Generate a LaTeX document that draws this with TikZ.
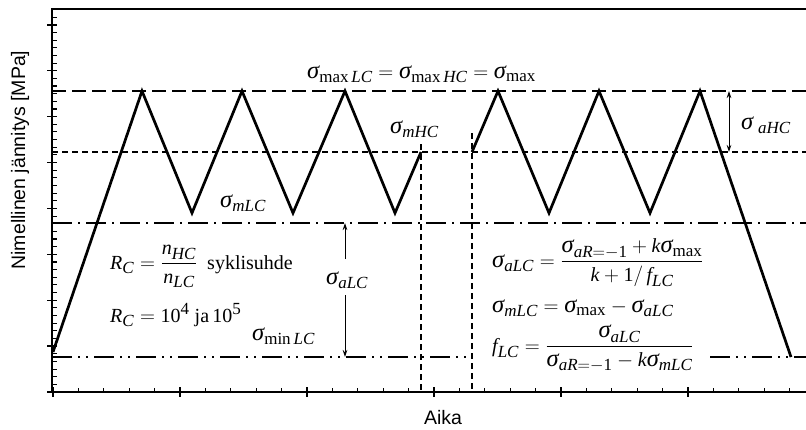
\documentclass[tikz,border=0pt]{standalone}
\usepackage{amsmath}
\usepackage{fontspec}
\setmainfont{Liberation Serif}
\newfontfamily\arialfont{Liberation Sans}
\DeclareMathSizes{20}{20}{17}{13}
\usetikzlibrary{arrows.meta}
\newcommand\sg{\mbox{\normalfont\itshape\fontsize{24.5}{28}\selectfont σ}}
\newcommand\ti[1]{\text{\normalfont\itshape #1}}
\newcommand\tr[1]{\text{\normalfont #1}}
\tikzset{
  wave/.style={line width=2.7pt, line join=miter},
  axisline/.style={line width=1.6pt},
  majtick/.style={line width=1.4pt},
  mintick/.style={line width=1.1pt},
  maxline/.style={line width=1.5pt, dash pattern=on 14pt off 6pt},
  hcline/.style={line width=1.4pt, dash pattern=on 6pt off 4pt},
  lcline/.style={line width=1.4pt, dash pattern=on 20pt off 6pt on 2pt off 6pt},
  minline/.style={line width=1.4pt, dash pattern=on 20pt off 6pt on 2pt off 6pt on 2pt off 6pt},
  vline/.style={line width=1.4pt, dash pattern=on 6pt off 4pt},
  dimarrow/.style={line width=0.8pt, -{Stealth[length=7pt,width=4.5pt]}},
  lbl/.style={inner sep=0pt, font=\fontsize{20}{24}\selectfont},
  axlbl/.style={inner sep=0pt, font=\arialfont\fontsize{19.5}{23}\selectfont},
}
\begin{document}
\begin{tikzpicture}[x=1pt,y=-1pt]
\useasboundingbox (0,0) rectangle (806,429);

% ---- horizontal reference lines
\coordinate (maxL) at (52,91);   \coordinate (maxR) at (806,91);
\coordinate (hcL)  at (52,152);  \coordinate (hcR)  at (806,152);
\coordinate (lcL)  at (52,223);  \coordinate (lcR)  at (806,223);
\coordinate (minL) at (52,357);  \coordinate (minM) at (472,357);
\coordinate (minN) at (710,357); \coordinate (minR) at (806,357);
\draw[maxline] (maxL) -- (maxR);
\draw[hcline]  (hcL) -- (hcR);
\draw[lcline]  (lcL) -- (lcR);
\draw[minline] (minL) -- (minM);
\draw[minline] (minN) -- (minR);

% ---- vertical dotted lines
\coordinate (v1t) at (421,144); \coordinate (v1b) at (421,392);
\coordinate (v2t) at (472,133); \coordinate (v2b) at (472,392);
\draw[vline] (v1t) -- (v1b);
\draw[vline] (v2t) -- (v2b);

% ---- axes
\coordinate (O) at (52,392);
\coordinate (Ytop) at (52,9);
\coordinate (Xend) at (806,392);
\coordinate (Tend) at (806,9);
\foreach \i in {1,...,50} \draw[mintick] (52,{392-7.65*\i}) -- ++(4.5,0);
\foreach \i in {0,...,8} \draw[majtick] (47,{392-45.9*\i}) -- ++(10,0);
\foreach \i in {1,...,29} \draw[mintick] ({53+25.4*\i},392) -- ++(0,-4.5);
\foreach \i in {0,...,5} \draw[majtick] ({53+127*\i},387) -- ++(0,10);
\draw[axisline] (Tend) -- (Ytop) -- (O) -- (Xend);

% ---- waveform
\coordinate (p0) at (53,352);
\coordinate (p1) at (142,91);
\coordinate (p2) at (192,213);
\coordinate (p3) at (242,91);
\coordinate (p4) at (293,213);
\coordinate (p5) at (345,91);
\coordinate (p6) at (395,213);
\coordinate (p7) at (421,152);
\coordinate (p8) at (472,152);
\coordinate (p9) at (498,91);
\coordinate (p10) at (549,213);
\coordinate (p11) at (599,91);
\coordinate (p12) at (650,213);
\coordinate (p13) at (700,91);
\coordinate (p14) at (791,357);
\draw[wave] (p0) -- (p1) -- (p2) -- (p3) -- (p4) -- (p5) -- (p6) -- (p7);
\draw[wave] (p8) -- (p9) -- (p10) -- (p11) -- (p12) -- (p13) -- (p14);

% ---- dimension arrows
\coordinate (aHCt) at (729,91);  \coordinate (aHCb) at (729,152);
\coordinate (aHCm) at (729,121);
\draw[dimarrow] (aHCm) -- (aHCt);
\draw[dimarrow] (aHCm) -- (aHCb);
\node[lbl, anchor=base west] (aHC) at (741,129) {$\sg_{\;\ti{aHC}}$};

\coordinate (aLCt) at (345,223); \coordinate (aLCb) at (345,357);
\coordinate (aLCs1) at (345,259); \coordinate (aLCs2) at (345,295);
\draw[dimarrow] (aLCs1) -- (aLCt);
\draw[dimarrow] (aLCs2) -- (aLCb);
\node[lbl, anchor=base west] (aLC) at (326,284) {$\sg_{\ti{aLC}}$};

% ---- labels
\node[lbl, anchor=base west] (top) at (307,78)
  {$\sg_{\tr{max}\,\ti{LC}} = \sg_{\tr{max}\,\ti{HC}} = \sg_{\tr{max}}$};
\node[lbl, anchor=base west] (mHC) at (390,133) {$\sg_{\ti{mHC}}$};
\node[lbl, anchor=base west] (mLC) at (220,207) {$\sg_{\ti{mLC}}$};
\node[lbl, anchor=base west] (minLC) at (252,340) {$\sg_{\tr{min}\,\ti{LC}}$};

\node[lbl, anchor=base west] (RC1) at (110,269)
  {$\ti{R}_{\ti{C}} = \dfrac{\ti{n}_{\ti{HC}}}{\ti{n}_{\ti{LC}}}$\ \ syklisuhde};
\node[lbl, anchor=base west] (RC2) at (110,322)
  {$\ti{R}_{\ti{C}} = \tr{10}^{\tr{4}}$ ja\,$\tr{10}^{\tr{5}}$};

\node[lbl, anchor=base west] (eq1) at (492,267)
  {$\sg_{\ti{aLC}} = \dfrac{\sg_{\ti{aR}=-\tr{1}} + \ti{k}\sg_{\tr{max}}}{\ti{k}+\tr{1}/\,\ti{f}_{\ti{LC}}}$};
\node[lbl, anchor=base west] (eq2) at (492,312)
  {$\sg_{\ti{mLC}} = \sg_{\tr{max}} - \sg_{\ti{aLC}}$};
\node[lbl, anchor=base west] (eq3) at (492,352)
  {$\ti{f}_{\ti{LC}} = \dfrac{\sg_{\ti{aLC}}}{\sg_{\ti{aR}=-\tr{1}} - \ti{k}\sg_{\ti{mLC}}}$};

% ---- axis titles
\node[axlbl, rotate=90] (ylab) at (20,160) {Nimellinen jännitys [MPa]};
\node[axlbl] (xlab) at (443,418) {Aika};
\end{tikzpicture}
\end{document}
